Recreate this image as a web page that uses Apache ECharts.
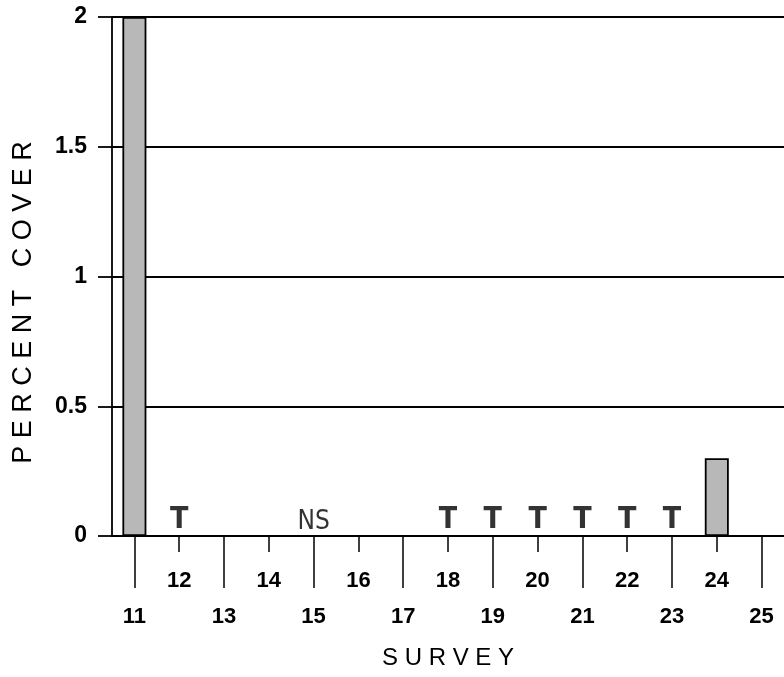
<!DOCTYPE html>
<html>
<head>
<meta charset="utf-8">
<script src="https://cdn.jsdelivr.net/npm/echarts@6/dist/echarts.min.js"></script>
<style>
  html, body { margin: 0; padding: 0; background: #fff; }
  #chart { width: 784px; height: 677px; }
</style>
</head>
<body>
<div id="chart"></div>
<script>
const categories = ['11', '12', '13', '14', '15', '16', '17', '18', '19', '20', '21', '22', '23', '24', '25'];
const coverValues = [2, 0, null, null, null, null, null, 0, 0, 0, 0, 0, 0, 0.3, null];
const noteLabels = ['', 'T', '', '', 'NS', '', '', 'T', 'T', 'T', 'T', 'T', 'T', '', ''];
const yTicks = [0, 0.5, 1, 1.5, 2];

const FONT = 'Liberation Sans, Arial, sans-serif';
const NARROW = '"DejaVu Sans Condensed", "Liberation Sans Narrow", "Liberation Sans", sans-serif';

const chart = echarts.init(document.getElementById('chart'), null, { renderer: 'canvas' });

const noteData = [];
noteLabels.forEach((n, i) => {
  if (n) {
    noteData.push({
      value: [i, 0],
      label: n === 'T'
        ? { formatter: n, fontFamily: NARROW, fontWeight: 'bold', fontSize: 30 }
        : { formatter: n, fontFamily: NARROW, fontWeight: 'normal', fontSize: 26 }
    });
  }
});

const evenIdx = (i) => i % 2 === 0;
const oddIdx = (i) => i % 2 === 1;

chart.setOption({
  animation: false,
  backgroundColor: '#ffffff',
  grid: { left: 112, top: 17, bottom: 141, right: -7, containLabel: false },
  xAxis: [
    {
      type: 'category',
      data: categories,
      position: 'bottom',
      boundaryGap: true,
      axisLine: { show: true, lineStyle: { color: '#000', width: 1.8 } },
      axisTick: { show: true, alignWithLabel: true, interval: (i) => oddIdx(i), length: 16, lineStyle: { color: '#000', width: 1.5 } },
      axisLabel: { show: true, interval: (i) => oddIdx(i), margin: 34, color: '#000', fontFamily: FONT, fontWeight: 'bold', fontSize: 22 },
      splitLine: { show: false }
    },
    {
      type: 'category',
      data: categories,
      position: 'bottom',
      boundaryGap: true,
      axisLine: { show: false },
      axisTick: { show: true, alignWithLabel: true, interval: (i) => evenIdx(i), length: 52, lineStyle: { color: '#000', width: 1.5 } },
      axisLabel: { show: true, interval: (i) => evenIdx(i), margin: 70, color: '#000', fontFamily: FONT, fontWeight: 'bold', fontSize: 22 },
      splitLine: { show: false },
      name: 'S U R V E Y',
      nameLocation: 'middle',
      nameGap: 110,
      nameTextStyle: { color: '#000', fontFamily: FONT, fontSize: 24, fontWeight: 'normal' }
    }
  ],
  yAxis: {
    type: 'value',
    min: yTicks[0],
    max: yTicks[yTicks.length - 1],
    interval: 0.5,
    axisLine: { show: true, lineStyle: { color: '#000', width: 1.8 } },
    axisTick: { show: true, inside: false, length: 14, lineStyle: { color: '#000', width: 1.8 } },
    axisLabel: { margin: 25, color: '#000', fontFamily: FONT, fontWeight: 'bold', fontSize: 23, padding: [5, 0, 0, 0] },
    splitLine: { show: true, lineStyle: { color: '#000', width: 1.8 } },
    name: 'P E R C E N T   C O V E R',
    nameLocation: 'middle',
    nameGap: 75,
    nameTextStyle: { color: '#000', fontFamily: FONT, fontSize: 27, fontWeight: 'normal', padding: [0, 52, 0, 0] }
  },
  series: [
    {
      type: 'bar',
      xAxisIndex: 0,
      data: coverValues,
      barWidth: 24,
      itemStyle: { color: '#b8b8b8', borderColor: '#000', borderWidth: 1.8 }
    },
    {
      type: 'scatter',
      xAxisIndex: 0,
      data: noteData,
      symbolSize: 1,
      clip: false,
      itemStyle: { color: 'transparent' },
      label: { show: true, position: 'top', distance: 0, color: '#000' },
      z: 5
    }
  ]
});
</script>
</body>
</html>
